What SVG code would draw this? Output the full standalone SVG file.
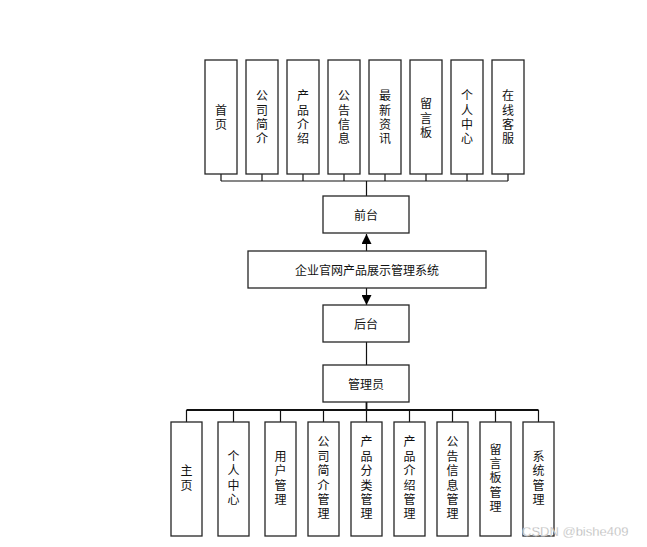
<svg xmlns="http://www.w3.org/2000/svg" width="647" height="547" viewBox="0 0 647 547">
<defs>
<style>
.box{fill:#fff;stroke:#262626;stroke-width:1.3}
.t{font-family:"Noto Sans CJK SC","Liberation Sans",sans-serif;font-size:12px;fill:#111;text-anchor:middle;dominant-baseline:central}
.v{font-family:"Noto Sans CJK SC","Liberation Sans",sans-serif;font-size:12px;fill:#111;text-anchor:middle;writing-mode:vertical-rl;letter-spacing:2.4px}
.ln{stroke:#111;stroke-width:1.2;fill:none}
.wm{font-family:"Liberation Sans",sans-serif;font-size:13px;fill:#b0b0b0;stroke:#fff;stroke-width:0.3}
</style>
<marker id="ah" viewBox="0 0 10 10" refX="10" refY="5" markerWidth="10" markerHeight="10" markerUnits="userSpaceOnUse" orient="auto">
<path d="M0,0 L10,5 L0,10 Z" fill="#000"/>
</marker>
</defs>
<rect width="647" height="547" fill="#fff"/>
<g id="connectors">
<path class="ln" d="M221,174V181M262,174V181M303,174V181M344,174V181M385,174V181M426,174V181M467,174V181M508,174V181M221,181H508M366.5,181V196"/>
<path class="ln" d="M366.5,251V234" marker-end="url(#ah)"/>
<path class="ln" d="M366.5,288V305" marker-end="url(#ah)"/>
<path class="ln" d="M366.5,342V365"/>
<path class="ln" d="M366.5,402V410M186.5,410H538.5" style="stroke-width:1.8"/>
<path class="ln" d="M186.5,410V422M233.5,410V422M280.5,410V422M323.5,410V422M366.5,410V422M409.5,410V422M452.5,410V422M495.5,410V422M538.5,410V422"/>
</g>
<g id="front-1"><rect class="box" x="205" y="60" width="32" height="114"/><text class="v" x="221" y="118.5">首页</text></g>
<g id="front-2"><rect class="box" x="246" y="60" width="32" height="114"/><text class="v" x="262" y="118.5">公司简介</text></g>
<g id="front-3"><rect class="box" x="287" y="60" width="32" height="114"/><text class="v" x="303" y="118.5">产品介绍</text></g>
<g id="front-4"><rect class="box" x="328" y="60" width="32" height="114"/><text class="v" x="344" y="118.5">公告信息</text></g>
<g id="front-5"><rect class="box" x="369" y="60" width="32" height="114"/><text class="v" x="385" y="118.5">最新资讯</text></g>
<g id="front-6"><rect class="box" x="410" y="60" width="32" height="114"/><text class="v" x="426" y="119.5">留言板</text></g>
<g id="front-7"><rect class="box" x="451" y="60" width="32" height="114"/><text class="v" x="467" y="118.5">个人中心</text></g>
<g id="front-8"><rect class="box" x="492" y="60" width="32" height="114"/><text class="v" x="508" y="118.5">在线客服</text></g>
<g id="qiantai"><rect class="box" x="323" y="196" width="86" height="37"/><text class="t" x="366" y="214.5">前台</text></g>
<g id="system"><rect class="box" x="248" y="251" width="238" height="37"/><text class="t" x="367" y="269.5">企业官网产品展示管理系统</text></g>
<g id="houtai"><rect class="box" x="323" y="305" width="86" height="37"/><text class="t" x="366" y="323.5">后台</text></g>
<g id="admin"><rect class="box" x="323" y="365" width="86" height="37"/><text class="t" x="366" y="383.5">管理员</text></g>
<g id="back-1"><rect class="box" x="171" y="422" width="31" height="114"/><text class="v" x="186.5" y="479">主页</text></g>
<g id="back-2"><rect class="box" x="218" y="422" width="31" height="114"/><text class="v" x="233.5" y="479">个人中心</text></g>
<g id="back-3"><rect class="box" x="265" y="422" width="31" height="114"/><text class="v" x="280.5" y="479">用户管理</text></g>
<g id="back-4"><rect class="box" x="308" y="422" width="31" height="114"/><text class="v" x="323.5" y="479">公司简介管理</text></g>
<g id="back-5"><rect class="box" x="351" y="422" width="31" height="114"/><text class="v" x="366.5" y="479">产品分类管理</text></g>
<g id="back-6"><rect class="box" x="394" y="422" width="31" height="114"/><text class="v" x="409.5" y="479">产品介绍管理</text></g>
<g id="back-7"><rect class="box" x="437" y="422" width="31" height="114"/><text class="v" x="452.5" y="479">公告信息管理</text></g>
<g id="back-8"><rect class="box" x="480" y="422" width="31" height="114"/><text class="v" x="495.5" y="479">留言板管理</text></g>
<g id="back-9"><rect class="box" x="523" y="422" width="31" height="114"/><text class="v" x="538.5" y="479">系统管理</text></g>
<text class="wm" x="522" y="536">CSDN @bishe409</text>
</svg>
